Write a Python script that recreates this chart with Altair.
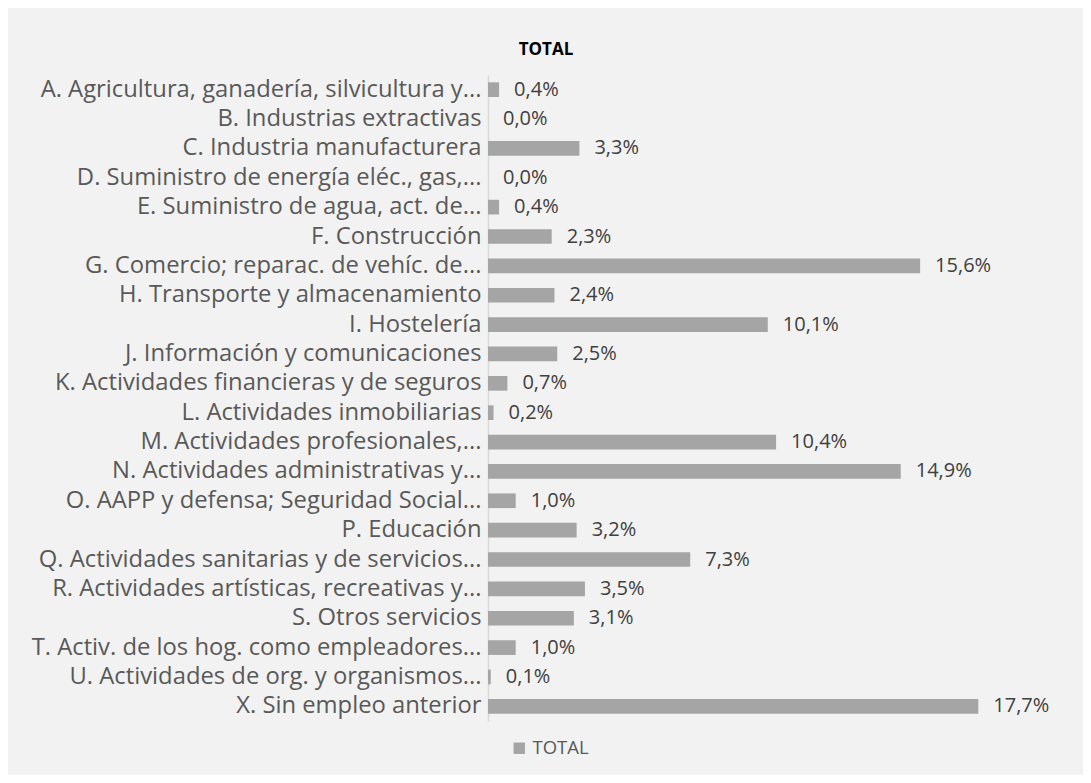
import altair as alt
import pandas as pd

categories = [
    "A. Agricultura, ganadería, silvicultura y...",
    "B. Industrias extractivas",
    "C. Industria manufacturera",
    "D. Suministro de energía eléc., gas,...",
    "E. Suministro de agua, act. de...",
    "F. Construcción",
    "G. Comercio; reparac. de vehíc. de...",
    "H. Transporte y almacenamiento",
    "I. Hostelería",
    "J. Información y comunicaciones",
    "K. Actividades financieras y de seguros",
    "L. Actividades inmobiliarias",
    "M. Actividades profesionales,...",
    "N. Actividades administrativas y...",
    "O. AAPP y defensa; Seguridad Social...",
    "P. Educación",
    "Q. Actividades sanitarias y de servicios...",
    "R. Actividades artísticas, recreativas y...",
    "S. Otros servicios",
    "T. Activ. de los hog. como empleadores...",
    "U. Actividades de org. y organismos...",
    "X. Sin empleo anterior",
]
values = [0.4, 0.0, 3.3, 0.0, 0.4, 2.3, 15.6, 2.4, 10.1, 2.5, 0.7, 0.2,
          10.4, 14.9, 1.0, 3.2, 7.3, 3.5, 3.1, 1.0, 0.1, 17.7]
series = "TOTAL"

df = pd.DataFrame({"cat": categories, "value": values, "serie": series})

FONT = "Open Sans"

base = alt.Chart(df).transform_calculate(
    label="replace(format(datum.value, '.1f'), '.', ',') + '%'"
)

y_enc = alt.Y(
    "cat:N", sort=categories, title=None,
    scale=alt.Scale(paddingInner=0.5, paddingOuter=0.25),
    axis=alt.Axis(labelFont=FONT, labelFontSize=23.8, labelColor="#595959",
                  labelLimit=600, labelPadding=7, ticks=False,
                  domainColor="#d9d9d9", domainWidth=1.5, grid=False),
)

bars = base.mark_bar(color="#a5a5a5").encode(
    x=alt.X("value:Q", scale=alt.Scale(domain=[0, 20]), axis=None),
    y=y_enc,
    fill=alt.Fill("serie:N", scale=alt.Scale(range=["#a5a5a5"]),
                  legend=alt.Legend(title=None, orient="none", legendX=22, legendY=664,
                                    symbolType="square", symbolSize=130,
                                    labelFont=FONT, labelFontSize=18.5,
                                    labelColor="#595959", padding=0,
                                    symbolStrokeWidth=0)),
)

text = base.mark_text(align="left", dx=15, font=FONT, fontSize=20, color="#404040").encode(
    x="value:Q",
    y=alt.Y("cat:N", sort=categories),
    text="label:N",
)

chart = (bars + text).properties(
    width=554,
    height=646,
    background="#f2f2f2",
    padding={"left": 480, "top": 67, "right": 41, "bottom": 54},
    autosize=alt.AutoSizeParams(type="none"),
    title=alt.TitleParams("TOTAL", font=FONT, fontSize=17, fontWeight="bold",
                          color="#000000", anchor="middle", dx=-219, offset=16),
).configure_view(stroke=None)

chart.save("out.html", embed_options={"renderer": "svg", "actions": False})
